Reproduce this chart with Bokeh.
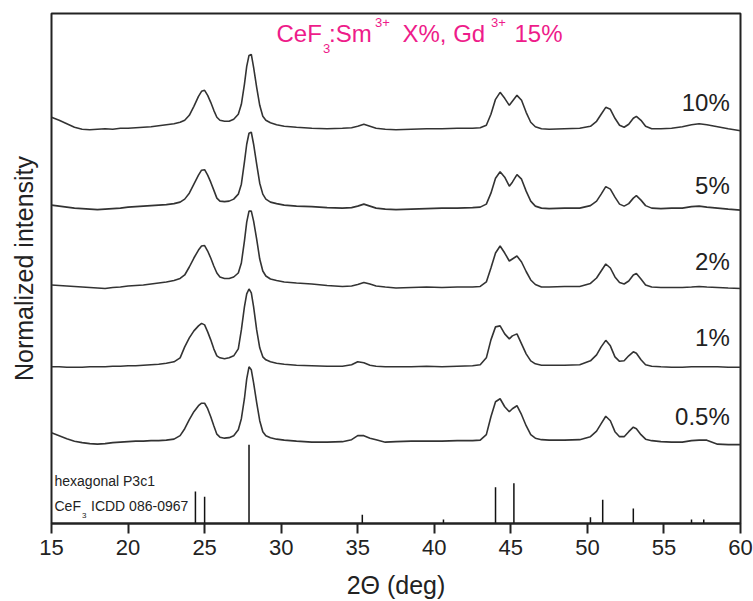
from bokeh.plotting import figure
from bokeh.models import Range1d, FixedTicker, Label
from bokeh.embed import file_html
from bokeh.resources import INLINE

# ---------------- data ----------------
two_theta = [
    15.0, 15.5, 16.0, 16.5, 17.0, 17.5, 18.0, 18.5, 19.0, 19.5,
    20.0, 20.5, 21.0, 21.5, 22.0, 22.5, 23.0, 23.4, 23.7, 24.0,
    24.3, 24.6, 24.8, 25.0, 25.2, 25.4, 25.6, 25.8, 26.0, 26.3,
    26.6, 26.9, 27.2, 27.4, 27.6, 27.75, 27.9, 28.05, 28.2, 28.4,
    28.6, 28.8, 29.0, 29.3, 29.7, 30.2, 31.0, 32.0, 33.0, 34.0,
    34.6, 35.0, 35.4, 35.8, 36.2, 36.8, 37.5, 38.5, 39.5, 40.5,
    41.5, 42.5, 43.0, 43.4, 43.7, 44.0, 44.3, 44.6, 44.9, 45.1,
    45.4, 45.7, 46.0, 46.3, 46.6, 47.0, 47.5, 48.5, 49.5, 50.2,
    50.6, 50.9, 51.2, 51.5, 51.8, 52.1, 52.4, 52.7, 53.0, 53.2,
    53.5, 53.8, 54.2, 54.8, 55.5, 56.2, 56.8, 57.3, 57.8, 58.5,
    59.2, 60.0,
]

sm_0_5 = [
    8, 5, 2, -0.5, -2, -3, -3.5, -3, -2, -1.5,
    -1, -0.5, -0.5, 0, 0, 0.5, 1.5, 5, 12, 21,
    29, 35, 37.5, 37.5, 32, 24, 15, 6.5, 3.5, 2.5,
    3, 5, 11, 22, 42, 62, 74, 71, 58, 38,
    20, 9, 5, 3, 1.5, 0.5, -0.5, -1.5, -1.5, -1,
    1, 5, 5, 2.5, 1, -1.5, -1, -0.5, -0.5, -0.5,
    0, 0, 0.5, 6, 24, 39, 42, 34, 29, 32,
    35, 26, 15, 6, 2.5, 1, 0.5, 0.5, 1, 4,
    9.5, 17, 24.5, 20, 9, 4, 4, 9, 13.5, 12,
    6, 1.5, 0, -1, -1.5, -1.5, 0, 0.5, 0.5, -3.5,
    -4, -4,
]

sm_1 = [
    0, 0, -0.5, -0.5, -0.5, 0, 0, 0, 0.5, 0.5,
    1, 1, 1.5, 2, 2.5, 3.5, 5, 9, 20, 29,
    36, 41, 43.5, 42, 35, 27, 18, 11, 9, 8,
    9, 11, 18, 37, 60, 73, 78, 74, 60, 37,
    19, 10, 7, 5, 3.5, 2.5, 1.5, 1, 0.5, 0.5,
    2, 5, 4, 1.5, 0.5, 0, 0, 0, 0.5, 0,
    0.5, 1, 2, 9, 27, 40, 41, 33, 28, 31,
    33, 23, 13, 6, 3, 1.5, 1.5, 1.5, 2, 6,
    12, 20, 26.5, 21, 10, 5.5, 6, 11, 15, 13.5,
    7, 2, 0.5, 0, -0.5, -0.5, 0, 0, 0, 0,
    -0.5, -0.5,
]

sm_2 = [
    2, 1.5, 1, 0.5, 0, -0.5, -1, -1.5, -0.5, 0,
    1, 1.5, 2, 3, 4, 5, 6.5, 8.5, 12, 20,
    29, 37, 41, 41.5, 36, 29, 21, 14, 10, 8.5,
    8.5, 10, 14, 24, 46, 65, 76, 76, 66, 48,
    28, 16, 11, 8, 6.5, 5, 4, 3, 1.5, 0.5,
    1, 2.5, 4.5, 3, 1, 0, -1, -0.5, 0, -0.5,
    0, 0, 0.5, 5, 19, 34, 41, 34, 26, 28,
    31, 25, 15.5, 7, 2.5, 0, 0, 0.5, 0.5, 3.5,
    9, 16, 23, 19, 10, 4.5, 3, 6, 12, 13.5,
    8, 2, 0, -0.5, -0.5, -0.5, 0, 0.5, 0, -0.5,
    -1, -1.5,
]

sm_5 = [
    3, 2, 1, 0, -0.5, -1, -1.5, -1, -0.5, 0,
    1, 1.5, 2, 2.5, 3, 3.5, 4.5, 6, 9, 15,
    24, 33, 38, 38.5, 33, 26, 18, 10, 7, 6.5,
    7, 9, 14, 24, 46, 64, 75, 76, 64, 44,
    25, 14, 9, 6, 4.5, 3, 2, 1.5, 0.5, 0,
    0.5, 2, 4, 2, 0, -1, -1.5, -1, -0.5, 0,
    0, 0.5, 1, 4, 15, 30, 36.5, 31, 22, 26,
    33.5, 29, 17, 7, 2, 0, -0.5, 0, 0, 2.5,
    7, 14, 21.5, 19, 11, 4, 2, 4.5, 10, 12.5,
    8, 2.5, 0, -0.5, 0, 0, 1.5, 2, 1, 0,
    -1, -2,
]

sm_10 = [
    12, 9, 5.5, 2, 0, -0.5, 0, 0.5, 0, 1,
    1, 1.5, 2, 2.5, 3.5, 4.5, 5.5, 7, 9, 14,
    23, 33, 38, 39, 34, 27, 19, 12, 9, 8,
    8, 10, 15, 25, 45, 63, 74, 75, 62, 42,
    24, 13, 9, 6.5, 4.5, 3, 2, 1, 0.5, 1,
    1.5, 3, 5, 3, 1, 0, -0.5, 0, 0.5, 0.5,
    1, 1, 1.5, 4, 15, 30, 37, 31, 24, 28,
    34, 29, 17, 7, 2.5, 0.5, 0, 0.5, 1, 3,
    8, 15, 22, 20, 11, 4, 2, 5, 11, 13,
    9, 3, 0.5, 0.5, 1, 2.5, 4.5, 5.5, 4.5, 2.5,
    0.5, -1.5,
]

series_names = ["0.5%", "1%", "2%", "5%", "10%"]
series_values = [sm_0_5, sm_1, sm_2, sm_5, sm_10]

# reference pattern CeF3 ICDD 086-0967 (relative intensity, %)
ref_two_theta = [24.4, 25.0, 27.9, 35.3, 40.6, 44.0, 45.2, 50.2, 51.0, 53.0, 56.8, 57.6]
ref_intensity = [40.5, 34, 100, 11, 5, 46, 51, 8, 30, 19, 5, 5]

x_ticks = [15, 20, 25, 30, 35, 40, 45, 50, 55, 60]

# ---------------- layout / style ----------------
FONT = "Liberation Sans"
INK = "#222222"
CURVE = "#333333"
PINK = "#EE1C8A"

offsets = [83, 157, 237, 316, 395]      # vertical stacking of the patterns
label_dy = [24, 29, 26, 23, 27]         # label centre above each baseline
stick_scale = 0.79

p = figure(width=753, height=601, output_backend="svg", toolbar_location=None,
           x_range=Range1d(15, 60), y_range=Range1d(0, 511),
           min_border_left=51, min_border_right=13, min_border_top=13,
           min_border_bottom=77)
p.background_fill_color = "white"
p.border_fill_color = "white"
p.outline_line_color = INK
p.outline_line_width = 2
p.grid.visible = False

# patterns
for name, vals, off, dy in zip(series_names, series_values, offsets, label_dy):
    ys = [v + off for v in vals]
    p.line(two_theta, ys, line_color=CURVE, line_width=1.6)
    p.add_layout(Label(x=59.3, y=off + dy, text=name, text_align="right",
                       text_baseline="middle", text_font=FONT,
                       text_font_size="24px", text_color=INK))

# reference sticks
p.segment(x0=ref_two_theta, y0=[0] * len(ref_two_theta), x1=ref_two_theta,
          y1=[v * stick_scale for v in ref_intensity],
          line_color="#111111", line_width=1.5)

def screen_label(px, y, text, size, color=INK):
    p.add_layout(Label(x=15, y=y, x_offset=px - 51, text=text,
                       text_align="left", text_baseline="middle",
                       text_font=FONT, text_font_size=size, text_color=color))

# title  CeF3:Sm3+ X%, Gd3+ 15%
screen_label(276, 490.7, "CeF", "24px", PINK)
screen_label(322.5, 476, "3", "13px", PINK)
screen_label(328.5, 490.7, ":Sm", "24px", PINK)
screen_label(374.5, 502, "3+", "13px", PINK)
screen_label(402, 490.7, "X%, Gd", "24px", PINK)
screen_label(490.5, 502, "3+", "13px", PINK)
screen_label(514, 490.7, "15%", "24px", PINK)

# reference annotation
screen_label(54, 42.3, "hexagonal  P3c1", "14px")
screen_label(54, 17.7, "CeF", "14px")
screen_label(81.5, 8.3, "3", "8px")
screen_label(90.5, 17.7, "ICDD 086-0967", "14px")

# x axis
xa = p.xaxis[0]
xa.ticker = FixedTicker(ticks=x_ticks)
xa.axis_line_color = INK
xa.axis_line_width = 2
xa.major_tick_line_color = INK
xa.major_tick_line_width = 2
xa.major_tick_out = 10
xa.major_tick_in = 0
xa.minor_tick_line_color = None
xa.major_label_text_font = FONT
xa.major_label_text_font_size = "22px"
xa.major_label_text_color = INK
xa.major_label_standoff = 6
xa.axis_label = "2\u0398 (deg)"
xa.axis_label_text_font = FONT
xa.axis_label_text_font_size = "25px"
xa.axis_label_text_font_style = "normal"
xa.axis_label_text_color = INK
xa.axis_label_standoff = 13

# y axis: label only
ya = p.yaxis[0]
ya.ticker = FixedTicker(ticks=[])
ya.axis_line_color = None
ya.major_tick_line_color = None
ya.minor_tick_line_color = None
ya.major_tick_out = 0
ya.major_label_standoff = 0
ya.axis_label = "Normalized intensity"
ya.axis_label_text_font = FONT
ya.axis_label_text_font_size = "25px"
ya.axis_label_text_font_style = "normal"
ya.axis_label_text_color = INK
ya.axis_label_standoff = 14

open("out.html", "w").write(file_html(p, INLINE))
